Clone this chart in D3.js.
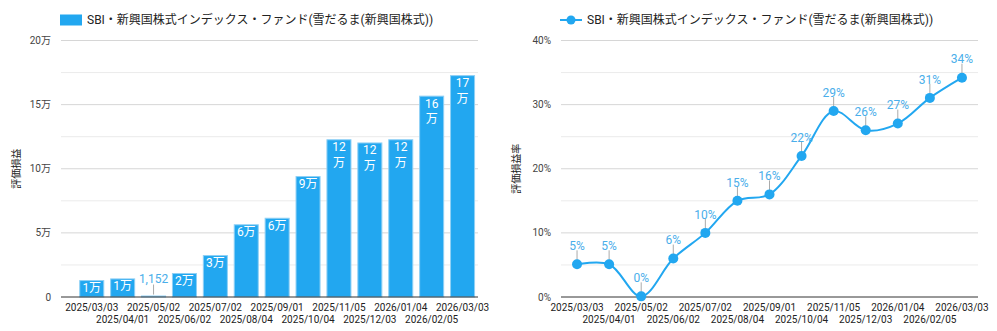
<!DOCTYPE html>
<html>
<head>
<meta charset="utf-8">
<script src="https://cdn.jsdelivr.net/npm/d3@7"></script>
<style>
  html, body { margin: 0; padding: 0; background: #fff; }
  svg { display: block; font-family: Roboto, "Noto Sans CJK JP", sans-serif; }
</style>
</head>
<body>
<svg id="chart" width="997" height="331"></svg>
<script>
const dates = ["2025/03/03","2025/04/01","2025/05/02","2025/06/02","2025/07/02","2025/08/04","2025/09/01","2025/10/04","2025/11/05","2025/12/03","2026/01/04","2026/02/05","2026/03/03"];
const profitValues = [13200, 14500, 1152, 18700, 32700, 56700, 61800, 94300, 123000, 120500, 123000, 157000, 173000];
const profitRate = [5.1, 5.1, 0.1, 6.0, 10.0, 15.0, 16.0, 22.0, 29.0, 26.0, 27.05, 31.05, 34.2];
const seriesName = "SBI・新興国株式インデックス・ファンド(雪だるま(新興国株式))";
const leftTicks = [0, 50000, 100000, 150000, 200000];
const leftTickLabels = ["0", "5万", "10万", "15万", "20万"];
const rightTicks = [0, 10, 20, 30, 40];
const rightTickLabels = ["0%", "10%", "20%", "30%", "40%"];
const leftTitle = "評価損益";
const rightTitle = "評価損益率";

const BLUE = "#22a7f0";
const LABEL_BLUE = "#4aaeea";
const svg = d3.select("#chart");

const yTop = 40.5, yBottom = 297;

function gridAndAxis(g, x0, x1, y, ticks, labels, minorStep) {
  const maxV = ticks[ticks.length - 1];
  const minor = d3.range(minorStep, maxV, minorStep).filter(v => !ticks.includes(v));
  g.selectAll("line.minor").data(minor).join("line")
    .attr("x1", x0).attr("x2", x1).attr("y1", d => y(d)).attr("y2", d => y(d))
    .attr("stroke", "#ebebeb").attr("stroke-width", 1);
  g.selectAll("line.major").data(ticks.filter(t => t !== 0)).join("line")
    .attr("x1", x0).attr("x2", x1).attr("y1", d => y(d)).attr("y2", d => y(d))
    .attr("stroke", "#d6d6d6").attr("stroke-width", 1);
  g.selectAll("text.tick").data(ticks).join("text")
    .attr("x", x0 - 10).attr("y", d => y(d)).attr("dy", "0.35em")
    .attr("text-anchor", "end").attr("font-size", 10).attr("fill", "#444")
    .text((d, i) => labels[i]);
}

function xLabels(g, xpos) {
  g.selectAll("text.xl").data(dates).join("text")
    .attr("x", d => xpos(d)).attr("y", (d, i) => i % 2 === 0 ? 310.5 : 323)
    .attr("text-anchor", "middle").attr("font-size", 10).attr("fill", "#222")
    .text(d => d);
}

function yTitle(g, x, text) {
  g.append("text").attr("transform", `translate(${x},${(yTop + yBottom) / 2}) rotate(-90)`)
    .attr("text-anchor", "middle").attr("font-size", 10).attr("fill", "#222").text(text);
}

// ---------- LEFT: bar chart ----------
{
  const x0 = 61, x1 = 478;
  const g = svg.append("g");
  const y = d3.scaleLinear().domain([0, 200000]).range([yBottom, yTop]);
  const x = d3.scaleBand().domain(dates).range([76.3, 478]).paddingInner(0.19).paddingOuter(0.095);

  gridAndAxis(g, x0, x1, y, leftTicks, leftTickLabels, 25000);

  g.selectAll("rect.bar").data(dates).join("rect")
    .attr("x", d => x(d) + 0.5).attr("width", x.bandwidth() - 1)
    .attr("y", (d, i) => y(profitValues[i]) + 0.5)
    .attr("height", (d, i) => Math.max(0, yBottom - y(profitValues[i]) - 0.5))
    .attr("fill", BLUE).attr("stroke", "#8fd0f5").attr("stroke-width", 1);

  g.append("line").attr("x1", x0).attr("x2", x1).attr("y1", yBottom).attr("y2", yBottom)
    .attr("stroke", "#333").attr("stroke-width", 1);

  dates.forEach((d, i) => {
    const v = profitValues[i];
    const top = y(v);
    const cx = x(d) + x.bandwidth() / 2;
    if (v >= 10000) {
      const label = Math.round(v / 10000) + "万";
      const t = g.append("text").attr("x", cx).attr("y", top + 12)
        .attr("text-anchor", "middle").attr("font-size", 12).attr("fill", "#fff").text(label);
      if (t.node().getComputedTextLength() > x.bandwidth() - 3) {
        t.text(null);
        t.append("tspan").attr("x", cx).attr("y", top + 12).text(label.slice(0, -1));
        t.append("tspan").attr("x", cx).attr("y", top + 27.5).text("万");
      }
    } else {
      g.append("line").attr("x1", cx).attr("x2", cx).attr("y1", top - 1).attr("y2", top - 11)
        .attr("stroke", "#aaa").attr("stroke-width", 1);
      g.append("text").attr("x", cx).attr("y", top - 13)
        .attr("text-anchor", "middle").attr("font-size", 12).attr("fill", LABEL_BLUE)
        .text(d3.format(",")(v));
    }
  });

  xLabels(g, d => x(d) + x.bandwidth() / 2);
  yTitle(g, 20, leftTitle);

  // legend
  g.append("rect").attr("x", 60).attr("y", 14.5).attr("width", 22).attr("height", 11).attr("fill", BLUE);
  g.append("text").attr("x", 87).attr("y", 20).attr("dy", "0.35em")
    .attr("font-size", 12).attr("fill", "#222").text(seriesName);
}

// ---------- RIGHT: line chart ----------
{
  const x0 = 561, x1 = 978;
  const g = svg.append("g");
  const y = d3.scaleLinear().domain([0, 40]).range([yBottom, yTop]);
  const x = d3.scalePoint().domain(dates).range([x0, x1]).padding(0.5);

  gridAndAxis(g, x0, x1, y, rightTicks, rightTickLabels, 5);
  g.append("line").attr("x1", x0).attr("x2", x1).attr("y1", yBottom).attr("y2", yBottom)
    .attr("stroke", "#333").attr("stroke-width", 1);

  const line = d3.line().x((d, i) => x(dates[i])).y(d => y(d)).curve(d3.curveCatmullRom.alpha(0.5));
  g.append("path").datum(profitRate).attr("d", line)
    .attr("fill", "none").attr("stroke", BLUE).attr("stroke-width", 2);

  dates.forEach((d, i) => {
    const cx = x(d), cy = y(profitRate[i]);
    g.append("line").attr("x1", cx).attr("x2", cx).attr("y1", cy - 4).attr("y2", cy - 14)
      .attr("stroke", "#aaa").attr("stroke-width", 1);
    g.append("text").attr("x", cx).attr("y", cy - 13).attr("dy", "-0.1em")
      .attr("text-anchor", "middle").attr("font-size", 12).attr("fill", LABEL_BLUE)
      .text(Math.round(profitRate[i]) + "%");
  });
  g.selectAll("circle.pt").data(profitRate).join("circle")
    .attr("cx", (d, i) => x(dates[i])).attr("cy", d => y(d)).attr("r", 5)
    .attr("fill", BLUE);

  xLabels(g, d => x(d));
  yTitle(g, 520, rightTitle);

  g.append("line").attr("x1", 560).attr("x2", 582).attr("y1", 20).attr("y2", 20)
    .attr("stroke", BLUE).attr("stroke-width", 2);
  g.append("circle").attr("cx", 571).attr("cy", 20).attr("r", 4.5).attr("fill", BLUE);
  g.append("text").attr("x", 587).attr("y", 20).attr("dy", "0.35em")
    .attr("font-size", 12).attr("fill", "#222").text(seriesName);
}
</script>
</body>
</html>
